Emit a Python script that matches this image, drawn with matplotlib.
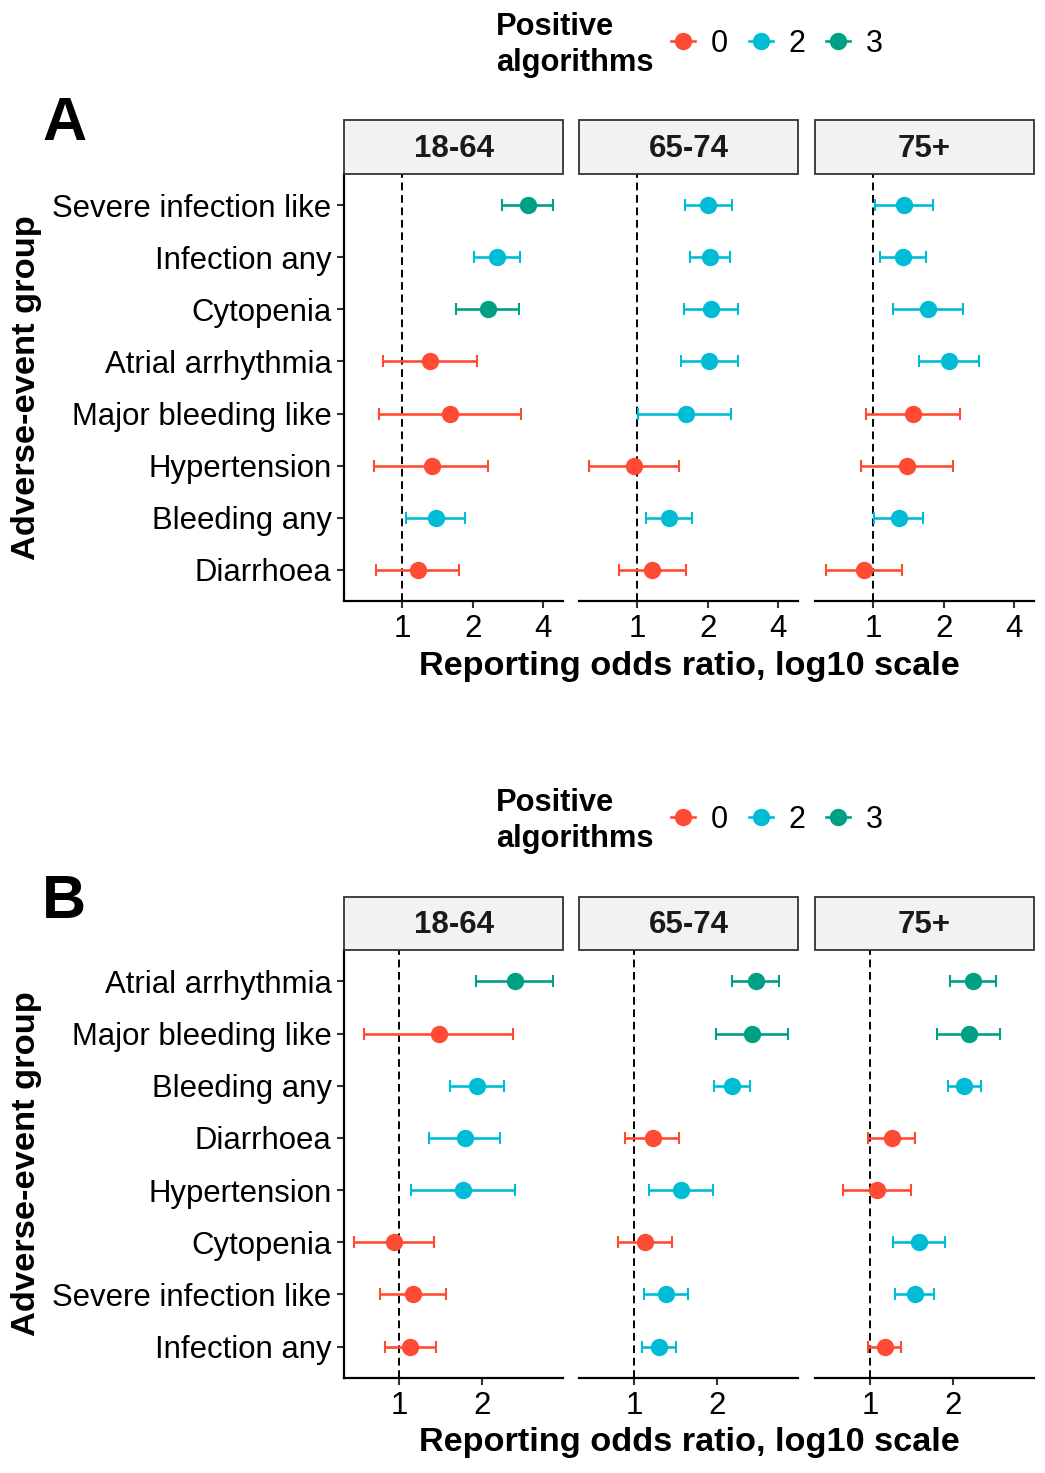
import matplotlib
matplotlib.use("Agg")
import matplotlib.pyplot as plt
import numpy as np
from matplotlib.lines import Line2D
from matplotlib.patches import Rectangle

plt.rcParams["font.family"] = ["Liberation Sans", "DejaVu Sans"]

# ---- data (odds ratios) ----
age_groups = ["18-64", "65-74", "75+"]
alg_levels = [0, 2, 3]

cats_a = ["Severe infection like", "Infection any", "Cytopenia", "Atrial arrhythmia",
          "Major bleeding like", "Hypertension", "Bleeding any", "Diarrhoea"]
ror_a = [[3.45, 2.55, 2.32, 1.31, 1.60, 1.335, 1.39, 1.16],
         [2.01, 2.04, 2.06, 2.03, 1.61, 0.967, 1.36, 1.15],
         [1.35, 1.34, 1.71, 2.10, 1.48, 1.395, 1.29, 0.907]]
lo_a = [[2.67, 2.03, 1.70, 0.825, 0.79, 0.755, 1.04, 0.774],
        [1.59, 1.68, 1.58, 1.53, 1.01, 0.62, 1.09, 0.83],
        [1.017, 1.07, 1.21, 1.56, 0.93, 0.886, 1.01, 0.625]]
hi_a = [[4.41, 3.18, 3.15, 2.08, 3.21, 2.32, 1.85, 1.74],
        [2.54, 2.48, 2.70, 2.69, 2.52, 1.51, 1.72, 1.61],
        [1.79, 1.68, 2.42, 2.82, 2.34, 2.18, 1.63, 1.32]]
pos_a = [[3, 2, 3, 0, 0, 0, 2, 0],
         [2, 2, 2, 2, 2, 0, 2, 0],
         [2, 2, 2, 2, 0, 0, 2, 0]]

cats_b = ["Atrial arrhythmia", "Major bleeding like", "Bleeding any", "Diarrhoea",
          "Hypertension", "Cytopenia", "Severe infection like", "Infection any"]
ror_b = [[2.63, 1.39, 1.92, 1.73, 1.71, 0.957, 1.12, 1.10],
         [2.76, 2.66, 2.26, 1.17, 1.48, 1.10, 1.31, 1.23],
         [2.36, 2.27, 2.18, 1.20, 1.06, 1.50, 1.45, 1.13]]
lo_b = [[1.90, 0.751, 1.53, 1.28, 1.11, 0.688, 0.852, 0.891],
        [2.26, 1.98, 1.95, 0.929, 1.13, 0.877, 1.09, 1.07],
        [1.95, 1.74, 1.91, 0.986, 0.80, 1.21, 1.23, 0.986]]
hi_b = [[3.59, 2.58, 2.40, 2.32, 2.63, 1.34, 1.48, 1.36],
        [3.35, 3.60, 2.62, 1.46, 1.93, 1.37, 1.57, 1.42],
        [2.86, 2.95, 2.51, 1.46, 1.41, 1.87, 1.71, 1.29]]
pos_b = [[3, 0, 2, 2, 2, 0, 0, 0],
         [3, 3, 2, 0, 2, 0, 2, 2],
         [3, 3, 2, 0, 0, 2, 2, 0]]

COLORS = {0: "#FF4B33", 2: "#00BCD6", 3: "#00A084"}
W, H = 1045, 1473

fig = plt.figure(figsize=(W / 100, H / 100), dpi=100)
fig.set_facecolor("white")


def fx(px):
    return px / W


def fy(py):
    return 1 - py / H


def draw_panel(letter, cats, ror, lo, hi, pos, top, bottom, strip_top, legend_y, ticks):
    # shared x limits, ggplot-like 5% expansion on log scale
    lmin = np.log10(np.min(lo))
    lmax = np.log10(np.max(hi))
    ex = (lmax - lmin) * 0.05
    xlim = (10 ** (lmin - ex), 10 ** (lmax + ex))
    n = len(cats)
    ys = np.arange(n)
    facet_x = [(344, 563), (579, 798), (815, 1034)]
    for j, (x0, x1) in enumerate(facet_x):
        ax = fig.add_axes([fx(x0), fy(bottom), fx(x1) - fx(x0), fy(top) - fy(bottom)])
        ax.set_xscale("log")
        ax.set_xlim(xlim)
        ax.set_ylim(n - 0.4, -0.6)
        ax.axvline(1, color="black", lw=1.4, ls=(0, (4, 2.4)), zorder=1)
        r = np.array(ror[j])
        l = np.array(lo[j])
        h = np.array(hi[j])
        p = np.array(pos[j])
        for k in alg_levels:
            m = p == k
            if not m.any():
                continue
            ax.errorbar(r[m], ys[m], xerr=[r[m] - l[m], h[m] - r[m]], fmt="o",
                        color=COLORS[k], ms=11.5, elinewidth=1.9, capsize=4,
                        capthick=1.5, zorder=3)
        ax.set_xticks(ticks)
        ax.set_xticklabels([str(t) for t in ticks])
        ax.xaxis.set_minor_locator(matplotlib.ticker.NullLocator())
        ax.tick_params(axis="x", length=5, width=1.5, color="#333333", pad=4.5,
                       labelsize=22.5, labelcolor="black")
        for s in ["top", "right"]:
            ax.spines[s].set_visible(False)
        ax.spines["bottom"].set_linewidth(1.6)
        if j == 0:
            ax.set_yticks(ys)
            ax.set_yticklabels(cats)
            ax.tick_params(axis="y", length=5, width=1.5, color="#333333", pad=4,
                           labelsize=22.4, labelcolor="black")
            ax.spines["left"].set_linewidth(1.6)
        else:
            ax.set_yticks([])
            ax.spines["left"].set_visible(False)
        # facet strip
        sax = fig.add_axes([fx(x0), fy(top), fx(x1) - fx(x0), fy(strip_top) - fy(top)])
        sax.set_axis_off()
        sax.add_patch(Rectangle((0, 0), 1, 1, transform=sax.transAxes, facecolor="#F2F2F2",
                                edgecolor="#333333", lw=1.3, clip_on=False))
        sax.text(0.5, 0.47, age_groups[j], ha="center", va="center", fontsize=22.5,
                 fontweight="bold", color="#1A1A1A", transform=sax.transAxes)

    # axis titles
    fig.text(fx(689), fy(bottom + 65), "Reporting odds ratio, log10 scale", ha="center",
             va="center", fontsize=24.7, fontweight="bold")
    fig.text(fx(27), fy((top + bottom) / 2), "Adverse-event group", ha="center",
             va="center", rotation=90, fontsize=24.8, fontweight="bold")
    # panel letter
    fig.text(fx(42), fy(strip_top + 5), letter, ha="left", va="center", fontsize=44,
             fontweight="bold")
    # legend
    fig.text(fx(496), fy(legend_y + 3), "Positive\nalgorithms", ha="left", va="center",
             fontsize=22.2, fontweight="bold", linespacing=1.25)
    handles = [Line2D([], [], color=COLORS[k], marker="o", ms=11.5, lw=1.9) for k in alg_levels]
    fig.legend(handles, [str(k) for k in alg_levels], ncol=3, loc="center left",
               bbox_to_anchor=(fx(671), fy(legend_y + 2)), frameon=False, fontsize=22,
               handlelength=0.8, handletextpad=0.5, columnspacing=0.68, borderpad=0,
               borderaxespad=0)


draw_panel("A", cats_a, ror_a, lo_a, hi_a, pos_a, 174, 601, 120, 42, [1, 2, 4])
draw_panel("B", cats_b, ror_b, lo_b, hi_b, pos_b, 950, 1378, 897, 818, [1, 2])

fig.savefig("out.png", dpi=100)
